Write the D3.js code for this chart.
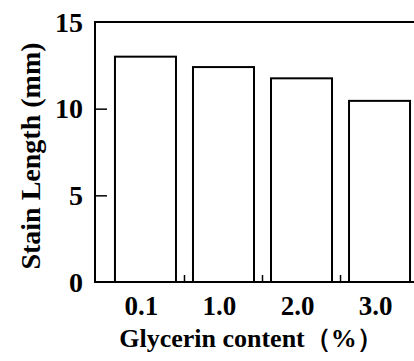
<!DOCTYPE html>
<html>
<head>
<meta charset="utf-8">
<script src="https://cdn.jsdelivr.net/npm/d3@7"></script>
<style>
  body { margin: 0; background: #fff; }
  text { font-family: "Liberation Serif", "Times New Roman", serif; font-weight: bold; fill: #000; }
</style>
</head>
<body>
<div id="chart"></div>
<script>
// data
var categories = ["0.1", "1.0", "2.0", "3.0"];
var stainLength = [13.0, 12.4, 11.75, 10.45];
var yTicks = [0, 5, 10, 15];

var svgWidth = 414;
var svgHeight = 361;
var margin = { top: 22, right: -16, bottom: 79, left: 95 };

var width = svgWidth - margin.left - margin.right;
var height = svgHeight - margin.top - margin.bottom;

var svg = d3.select("#chart")
    .append("svg")
    .attr("width", svgWidth)
    .attr("height", svgHeight);

var g = svg.append("g")
    .attr("transform", `translate(${margin.left}, ${margin.top})`);

var x = d3.scaleBand()
    .domain(categories)
    .range([0, width])
    .paddingInner(0.218)
    .paddingOuter(0.256);

var y = d3.scaleLinear()
    .domain([0, 15])
    .range([height, 0]);

// bars
g.selectAll("rect.bar")
    .data(stainLength)
    .enter()
    .append("rect")
    .attr("class", "bar")
    .attr("x", (d, i) => x(categories[i]))
    .attr("y", d => y(d))
    .attr("width", x.bandwidth())
    .attr("height", d => height - y(d))
    .attr("fill", "#fff")
    .attr("stroke", "#000")
    .attr("stroke-width", 2);

// frame
g.append("rect")
    .attr("x", 0)
    .attr("y", 0)
    .attr("width", width)
    .attr("height", height)
    .attr("fill", "none")
    .attr("stroke", "#000")
    .attr("stroke-width", 2);

// y axis: inward ticks, labels outside
var leftAxis = d3.axisLeft(y)
    .tickValues(yTicks)
    .tickSize(-12)
    .tickPadding(12);

var yAxis = g.append("g").call(leftAxis);
yAxis.select(".domain").remove();
yAxis.selectAll("line")
    .attr("stroke-width", 1.5)
    .attr("display", d => (d === 0 || d === 15) ? "none" : null);
yAxis.selectAll("text")
    .style("font-size", "28px")
    .attr("dy", "0.33em");

// small ticks between the bars
var step = x.step();
var sep = categories.slice(1).map(c => x(c) - (step - x.bandwidth()) / 2);
g.selectAll("line.sep")
    .data(sep)
    .enter()
    .append("line")
    .attr("x1", d => d)
    .attr("x2", d => d)
    .attr("y1", height)
    .attr("y2", height - 7)
    .attr("stroke", "#000")
    .attr("stroke-width", 1.5);

// x labels
g.selectAll("text.xlab")
    .data(categories)
    .enter()
    .append("text")
    .attr("x", d => x(d) + x.bandwidth() / 2 - 4)
    .attr("y", height + 33)
    .attr("text-anchor", "middle")
    .style("font-size", "27px")
    .text(d => d);

// axis titles
svg.append("text")
    .attr("x", 251)
    .attr("y", 347)
    .attr("text-anchor", "middle")
    .style("font-size", "26px")
    .text("Glycerin content（%）");

svg.append("text")
    .attr("transform", "translate(40, 156) rotate(-90)")
    .attr("text-anchor", "middle")
    .style("font-size", "28px")
    .text("Stain Length  (mm)");
</script>
</body>
</html>
